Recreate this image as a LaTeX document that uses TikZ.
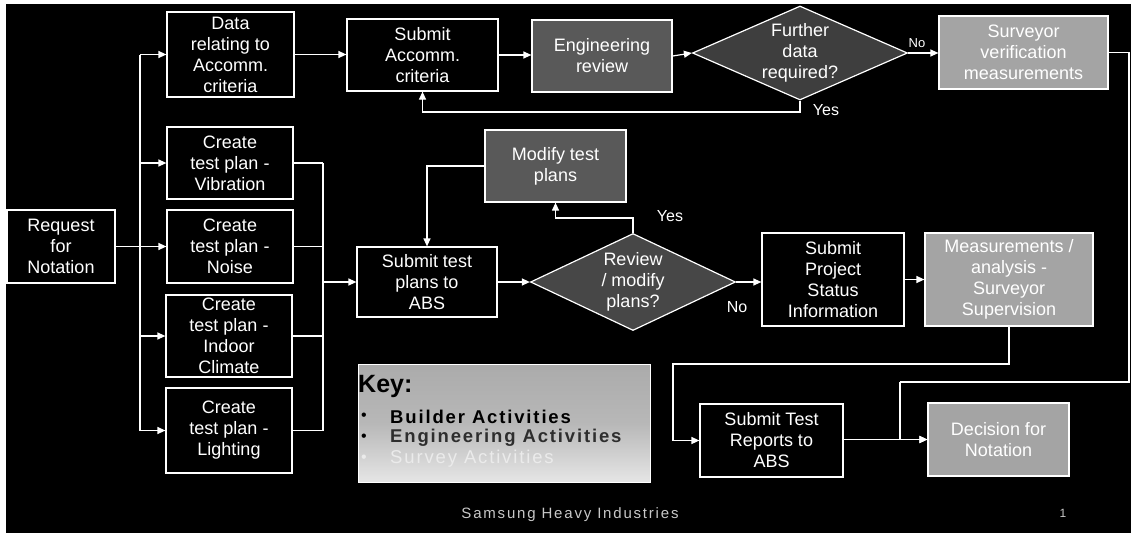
\documentclass[tikz,border=0pt]{standalone}
\usepackage{fontspec}
\setmainfont{Liberation Sans}
\usetikzlibrary{arrows.meta,shapes.geometric,calc}
\definecolor{engfill}{HTML}{595959}
\definecolor{diafill}{HTML}{3E3E3E}
\definecolor{survfill}{HTML}{A4A4A4}
\definecolor{foot}{HTML}{C8C8C8}
\tikzset{
  box/.style={draw=white, fill=black, text=white, line width=1.2pt, inner sep=0pt,
    align=center, font=\fontsize{18}{21}\selectfont},
  engbox/.style={box, fill=engfill},
  survbox/.style={box, fill=survfill},
  dia/.style={diamond, draw=white, fill=diafill, line width=1.2pt, inner sep=0pt},
  txt/.style={text=white, align=center, inner sep=0pt, font=\fontsize{18}{21}\selectfont},
  lbl/.style={text=white, inner sep=0pt, font=\fontsize{16}{18}\selectfont},
  ln/.style={draw=white, line width=1.2pt},
  arr/.style={ln, -{Triangle[length=8pt,width=7pt]}},
  keyitem/.style={anchor=west, inner sep=0pt, font=\addfontfeature{LetterSpace=10}\bfseries\fontsize{18.5}{20}\selectfont},
  bul/.style={anchor=west, inner sep=0pt, font=\fontsize{16}{18}\selectfont},
}
\begin{document}
\begin{tikzpicture}[x=1pt,y=-1pt]
\useasboundingbox (0,0) rectangle (1131,533);
\fill[white] (0,0) rectangle (1131,533);
\fill[black] (6,4) rectangle (1131,533);

% nodes
\node[box, minimum width=108, minimum height=73] (req) at (61,246.5) {Request\\for\\Notation};
\node[box, minimum width=127, minimum height=85] (data) at (230.5,54.5) {Data\\relating to\\Accomm.\\criteria};
\node[box, minimum width=126, minimum height=72] (vib) at (230,163) {Create\\test plan -\\Vibration};
\node[box, minimum width=126, minimum height=73] (noise) at (230,246.5) {Create\\test plan -\\Noise};
\node[box, minimum width=126, minimum height=82] (indoor) at (229,336) {Create\\test plan -\\Indoor\\Climate};
\node[box, minimum width=126, minimum height=85] (light) at (229,430.5) {Create\\test plan -\\Lighting};
\node[box, minimum width=151, minimum height=72] (subacc) at (422.5,55) {Submit\\Accomm.\\criteria};
\node[engbox, minimum width=140, minimum height=72] (eng) at (602,56) {Engineering\\review};
\node[dia, minimum width=215, minimum height=94] (fd) at (800,53) {};
\node[txt] (fdt) at (fd) {Further\\data\\required?};
\node[survbox, minimum width=169, minimum height=73] (surv) at (1023.5,52.5) {Surveyor\\verification\\measurements};
\node[engbox, minimum width=141, minimum height=72] (modify) at (555.5,166) {Modify test\\plans};
\node[box, minimum width=140, minimum height=70] (subtest) at (427,282) {Submit test\\plans to\\ABS};
\node[dia, fill=black!72, minimum width=205, minimum height=97] (rev) at (633,282) {};
\node[txt] (revt) at (rev) {Review\\/ modify\\plans?};
\node[box, minimum width=142, minimum height=93] (proj) at (833,279.5) {Submit\\Project\\Status\\Information};
\node[survbox, minimum width=168, minimum height=93] (meas) at (1009,279.5) {Measurements /\\analysis -\\Surveyor\\Supervision};
\node[box, minimum width=143, minimum height=73] (subrep) at (771.5,440.5) {Submit Test\\Reports to\\ABS};
\node[survbox, minimum width=141, minimum height=73] (dec) at (998.5,439.5) {Decision for\\Notation};

% helper coordinates
\coordinate (trx) at (140,0);
\coordinate (cx) at (323,0);
\coordinate (c1) at (1129,382);
\coordinate (c2) at (900,382);
\coordinate (c3) at (673,364);
\coordinate (c4) at (800,112);
\coordinate (c6) at (633,218);

% left trunk
\draw[arr] (req.east) -- (noise.west);
\draw[ln] (trx |- data.west) -- (trx |- light.west);
\draw[arr] (trx |- data.west) -- (data.west);
\draw[arr] (trx |- vib.west) -- (vib.west);
\draw[arr] (trx |- indoor.west) -- (indoor.west);
\draw[arr] (trx |- light.west) -- (light.west);

% collector
\draw[ln] (vib.east) -- (vib.east -| cx);
\draw[ln] (noise.east) -- (noise.east -| cx);
\draw[ln] (indoor.east) -- (indoor.east -| cx);
\draw[ln] (light.east) -- (light.east -| cx);
\draw[ln] (vib.east -| cx) -- (light.east -| cx);
\draw[arr] (cx |- subtest.west) -- (subtest.west);

% top row
\draw[arr] (data.east) -- (subacc.west |- data.east);
\draw[arr] (subacc.east) -- (eng.west |- subacc.east);
\draw[arr] (eng.east) -- (fd.west);
\draw[arr] (fd.east) -- (surv.west |- fd.east);
\node[text=white, inner sep=0pt, font=\fontsize{13}{15}\selectfont] (no1) at (917,43) {No};
\draw[arr] (fd.south) -- (c4) -| (subacc.south);
\node[lbl] (yes1) at (826,110) {Yes};

% surveyor route
\draw[ln] (surv.east) -| (c1) -- (c2);
\draw[arr] (c2) |- (dec.west);

% middle
\draw[arr] (modify.west) -| (subtest.north);
\draw[arr] (rev.north) -- (c6) -| (modify.south);
\node[lbl] (yes2) at (670,216) {Yes};
\draw[arr] (subtest.east) -- (rev.west);
\draw[arr] (rev.east) -- (rev.east -| proj.west);
\node[lbl] (no2) at (737,307) {No};
\draw[arr] (proj.east) -- (meas.west |- proj.east);

% lower
\draw[arr] (meas.south) |- (c3) |- (subrep.west);
\draw[arr] (subrep.east) -- (dec.west -| subrep.east) -- (dec.west);

% key
\node[draw=white, line width=0.8pt, top color=black!33, bottom color=black!10, middle color=black!28,
  minimum width=292, minimum height=118, inner sep=0pt] (key) at (504,423) {};
\node[anchor=west, inner sep=0pt, font=\bfseries\fontsize{25}{27}\selectfont] (keyt) at (358,386) {Key:};
\node[bul] (b1) at (361,417) {•};
\node[keyitem] (k1) at (390,417) {Builder Activities};
\node[bul] (b2) at (361,438) {•};
\node[keyitem, text=black!82] (k2) at (390,438) {Engineering Activities};
\node[bul, text=black!8] (b3) at (361,459) {•};
\node[keyitem, text=black!8, font=\addfontfeature{LetterSpace=10}\mdseries\fontsize{18.5}{20}\selectfont] (k3) at (390,459) {Survey Activities};

% footer
\node[text=foot, inner sep=0pt, font=\addfontfeature{LetterSpace=12}\fontsize{15}{17}\selectfont] (foot) at (570,515) {Samsung Heavy Industries};
\node[text=foot, inner sep=0pt, font=\fontsize{12}{14}\selectfont] (pg) at (1063,513) {1};
\end{tikzpicture}
\end{document}
